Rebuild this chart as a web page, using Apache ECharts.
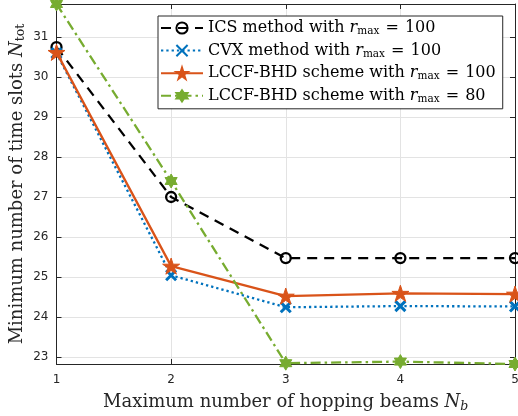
<!DOCTYPE html>
<html><head><meta charset="utf-8">
<script src="https://cdn.jsdelivr.net/npm/echarts@6/dist/echarts.min.js"></script>
<style>html,body{margin:0;padding:0;background:#fff}#c{width:518px;height:416px}</style>
</head><body><div id="c"></div>
<script>
// ---- data ----
const beams = [1, 2, 3, 4, 5];
const icsValues = [30.75, 27.0, 25.47, 25.47, 25.47];
const cvxValues = [30.60, 25.04, 24.24, 24.27, 24.26];
const lccf100Values = [30.62, 25.27, 24.52, 24.59, 24.57];
const lccf80Values = [31.83, 27.40, 22.84, 22.88, 22.82];
const yTicks = [23, 24, 25, 26, 27, 28, 29, 30, 31];
const xTicks = [1, 2, 3, 4, 5];
const seriesNames = ['ICS method', 'CVX method', 'LCCF-BHD scheme 100', 'LCCF-BHD scheme 80'];
const legendLabels = [
  ['ICS method with ', '100'],
  ['CVX method with ', '100'],
  ['LCCF-BHD scheme with ', '100'],
  ['LCCF-BHD scheme with ', '80']
];
const yMin = 22.82, yMax = 31.83;

function starPath(n, ratio) {
  let d = '';
  for (let i = 0; i < 2 * n; i++) {
    const r = i % 2 === 0 ? 10 : 10 * ratio;
    const a = -Math.PI / 2 + i * Math.PI / n;
    d += (i === 0 ? 'M' : 'L') + (r * Math.cos(a)).toFixed(3) + ',' + (r * Math.sin(a)).toFixed(3);
  }
  return 'path://' + d + 'Z';
}
const pentagram = starPath(5, 0.382);
const hexagram = starPath(6, 0.577);
const crossPath = 'path://M0,0L10,10M10,0L0,10';

const serif = 'DejaVu Serif';
const axisColor = '#262626';
const gridColor = '#e3e3e3';

const chart = echarts.init(document.getElementById('c'), null, {renderer: 'canvas'});
const legendRich = {
  n: {fontFamily: serif, fontSize: 16, color: '#000', lineHeight: 18},
  e: {fontFamily: serif, fontSize: 16, color: '#000', lineHeight: 18, padding: [0, 1, 0, 1]},
  i: {fontFamily: serif, fontSize: 16, fontStyle: 'italic', color: '#000', lineHeight: 18},
  s: {fontFamily: serif, fontSize: 10.5, color: '#000', lineHeight: 18, padding: [7, 0, 0, 0]}
};
function titleRich(subItalic) {
  return {
    n: {fontFamily: serif, fontSize: 18, color: '#262626'},
    i: {fontFamily: serif, fontSize: 18, fontStyle: 'italic', color: '#262626'},
    s: {fontFamily: serif, fontSize: 12.5, fontStyle: subItalic ? 'italic' : 'normal', color: '#262626', padding: [8, 0, 0, 0]}
  };
}

function mk(name, data, color, lineType, symbol, symSize, extra) {
  return Object.assign({
    name, type: 'line', data: beams.map((b, k) => [b, data[k]]),
    xAxisIndex: 0, yAxisIndex: 0,
    symbol, symbolSize: symSize, symbolKeepAspect: true,
    lineStyle: {color, width: 2.3, type: lineType},
    itemStyle: {color, borderColor: color, borderWidth: 1},
    emphasis: {disabled: true}, animation: false, clip: false
  }, extra || {});
}

chart.setOption({
  animation: false,
  grid: {left: 56.5, right: 3, top: 4, bottom: 52, containLabel: false, outerBoundsMode: 'none'},
  xAxis: [
    {type: 'value', min: 1, max: 5, interval: 1, position: 'bottom',
     axisLine: {lineStyle: {color: axisColor, width: 1}},
     axisTick: {inside: true, length: 5, lineStyle: {color: axisColor}},
     axisLabel: {color: axisColor, fontFamily: 'DejaVu Sans', fontSize: 12, margin: 10,
       formatter: v => xTicks.includes(v) ? String(v) : ''},
     splitLine: {show: true, lineStyle: {color: gridColor, width: 1}},
     name: '{n|Maximum number of hopping beams }{i|N}{s|b}',
     nameLocation: 'middle', nameGap: 28, nameMoveOverlap: false,
     nameTextStyle: {rich: titleRich(true)}},
    {type: 'value', min: 1, max: 5, interval: 1, position: 'top',
     axisLine: {lineStyle: {color: axisColor, width: 1}},
     axisTick: {inside: true, length: 5, lineStyle: {color: axisColor}},
     axisLabel: {show: false}, splitLine: {show: false}}
  ],
  yAxis: [
    {type: 'value', min: yMin, max: yMax, splitNumber: 9, position: 'left',
     axisLine: {show: true, lineStyle: {color: axisColor, width: 1}},
     axisTick: {show: true, inside: true, length: 5, lineStyle: {color: axisColor}},
     axisLabel: {color: axisColor, fontFamily: 'DejaVu Sans', fontSize: 12, margin: 8,
       formatter: v => yTicks.includes(Math.round(v * 1000) / 1000) ? String(v) : ''},
     splitLine: {show: true, lineStyle: {color: gridColor, width: 1}},
     name: '{n|Minimum number of time slots }{i|N}{s|tot}',
     nameLocation: 'middle', nameGap: 29, nameRotate: 90, nameMoveOverlap: false,
     nameTextStyle: {rich: titleRich(false)}},
    {type: 'value', min: yMin, max: yMax, splitNumber: 9, position: 'right',
     axisLine: {show: true, lineStyle: {color: axisColor, width: 1}},
     axisTick: {show: true, inside: true, length: 5, lineStyle: {color: axisColor}},
     axisLabel: {show: false}, splitLine: {show: false}}
  ],
  legend: {
    orient: 'vertical', left: 158, top: 16,
    itemWidth: 42, itemHeight: 14, itemGap: 4.6,
    padding: [3, 7, 4, 2],
    backgroundColor: '#fff', borderColor: axisColor, borderWidth: 1,
    data: seriesNames,
    formatter: name => {
      const k = seriesNames.indexOf(name);
      return '{n|' + legendLabels[k][0] + '}{i|r}{s|max}{e| = }{n|' + legendLabels[k][1] + '}';
    },
    textStyle: {rich: legendRich, padding: [0, 0, 0, 0]}
  },
  series: [
    mk(seriesNames[0], icsValues, '#000000', [10, 7], 'circle', 10,
       {itemStyle: {color: 'rgba(255,255,255,0)', borderColor: '#000', borderWidth: 2.3}}),
    mk(seriesNames[1], cvxValues, '#0072BD', [2.3, 3], crossPath, 10,
       {itemStyle: {color: 'rgba(0,0,0,0)', borderColor: '#0072BD', borderWidth: 3}}),
    mk(seriesNames[2], lccf100Values, '#D95319', 'solid', pentagram, 17),
    mk(seriesNames[3], lccf80Values, '#77AC30', [10, 4, 2.5, 4], hexagram, 14)
  ]
});
</script>
</body></html>
